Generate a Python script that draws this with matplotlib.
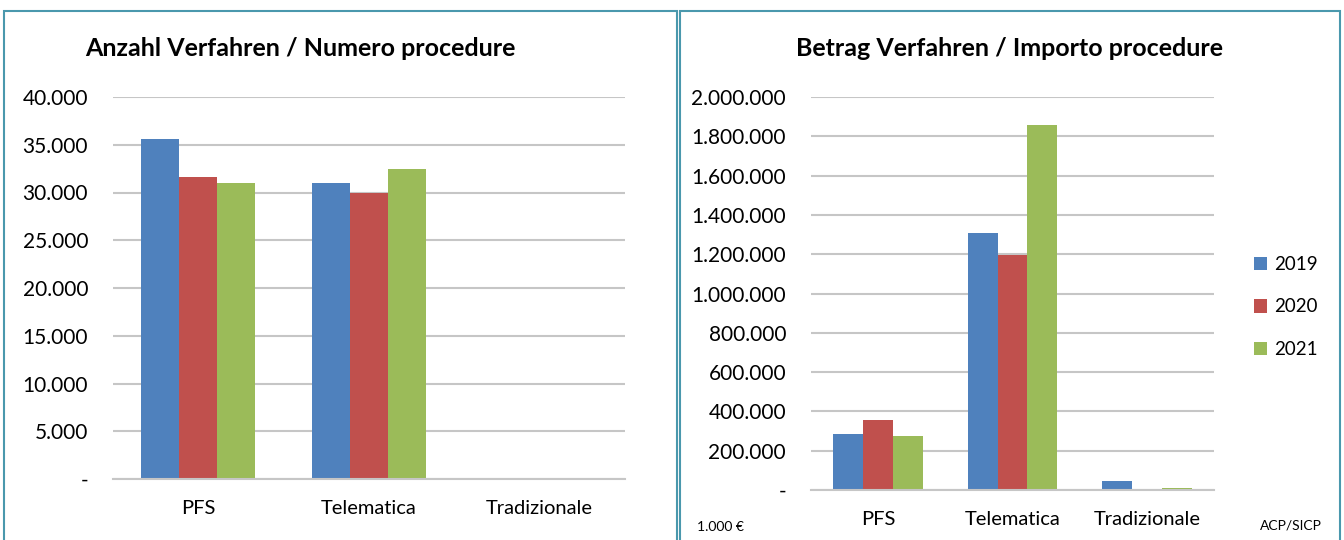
import numpy as np
import matplotlib.pyplot as plt
from matplotlib.patches import Rectangle
from matplotlib.ticker import FuncFormatter

plt.rcParams['font.family'] = ['Lato', 'DejaVu Sans']

categories = ['PFS', 'Telematica', 'Tradizionale']
years = ['2019', '2020', '2021']
colors = ['#4F81BD', '#C0504D', '#9BBB59']

# Anzahl Verfahren / Numero procedure
count_2019 = [35600, 31000, 0]
count_2020 = [31600, 30000, 0]
count_2021 = [31000, 32500, 0]

# Betrag Verfahren / Importo procedure (1.000 €)
amount_2019 = [287000, 1309000, 47000]
amount_2020 = [357000, 1194000, 0]
amount_2021 = [275000, 1857000, 10000]

W, H = 1344, 540
fig = plt.figure(figsize=(W / 100, H / 100), dpi=100)


def px(x0, y0, x1, y1):
    return [x0 / W, 1 - y1 / H, (x1 - x0) / W, (y1 - y0) / H]


def fmt(v, pos):
    if v == 0:
        return '-'
    return f'{int(v):,}'.replace(',', '.')


def draw(ax, series, ymax, step):
    x = np.arange(len(categories))
    bw = 1 / 4.5
    for i, vals in enumerate(series):
        ax.bar(x + (i - 1) * bw, vals, bw, color=colors[i], label=years[i])
    ax.set_xlim(-0.5, 2.5)
    ax.set_ylim(0, ymax)
    ax.set_yticks(np.arange(0, ymax + 1, step))
    ax.yaxis.set_major_formatter(FuncFormatter(fmt))
    ax.set_xticks(x)
    ax.set_xticklabels(categories, fontsize=14.5)
    ax.grid(axis='y', color='#c6c6c6', linewidth=1.5)
    ax.set_axisbelow(True)
    for s in ['top', 'right', 'left']:
        ax.spines[s].set_visible(False)
    ax.spines['bottom'].set_color('#c6c6c6')
    ax.spines['bottom'].set_linewidth(1.5)
    ax.tick_params(axis='both', length=0)
    ax.tick_params(axis='y', pad=18, labelsize=15)
    ax.tick_params(axis='x', pad=15)


ax1 = fig.add_axes(px(113, 97, 625, 479))
draw(ax1, [count_2019, count_2020, count_2021], 40000, 5000)

ax2 = fig.add_axes(px(811, 97, 1214, 490))
draw(ax2, [amount_2019, amount_2020, amount_2021], 2000000, 200000)

# panel frames
border = '#4a98ad'
fig.patches.append(Rectangle((4 / W, -0.1), 673 / W, 1.1 - 11 / H, transform=fig.transFigure,
                             fill=False, edgecolor=border, linewidth=1.5))
fig.patches.append(Rectangle((680 / W, -0.1), 660 / W, 1.1 - 11 / H, transform=fig.transFigure,
                             fill=False, edgecolor=border, linewidth=1.5))

fig.text(300 / W, 1 - 49 / H, 'Anzahl Verfahren / Numero procedure', ha='center', va='center',
         fontsize=18, fontweight='bold')
fig.text(1010 / W, 1 - 49 / H, 'Betrag Verfahren / Importo procedure', ha='center', va='center',
         fontsize=18, fontweight='bold')

fig.text(697 / W, 1 - 527 / H, '1.000 €', ha='left', va='center', fontsize=10)
fig.text(1322 / W, 1 - 525 / H, 'ACP/SICP', ha='right', va='center', fontsize=10)

handles, labels = ax2.get_legend_handles_labels()
fig.legend(handles, labels, loc='center', bbox_to_anchor=(1286 / W, 1 - 307 / H), frameon=False,
           fontsize=13.5, handlelength=0.7, handleheight=0.7, handletextpad=0.4, labelspacing=1.35)

fig.savefig('out.png', dpi=100)
